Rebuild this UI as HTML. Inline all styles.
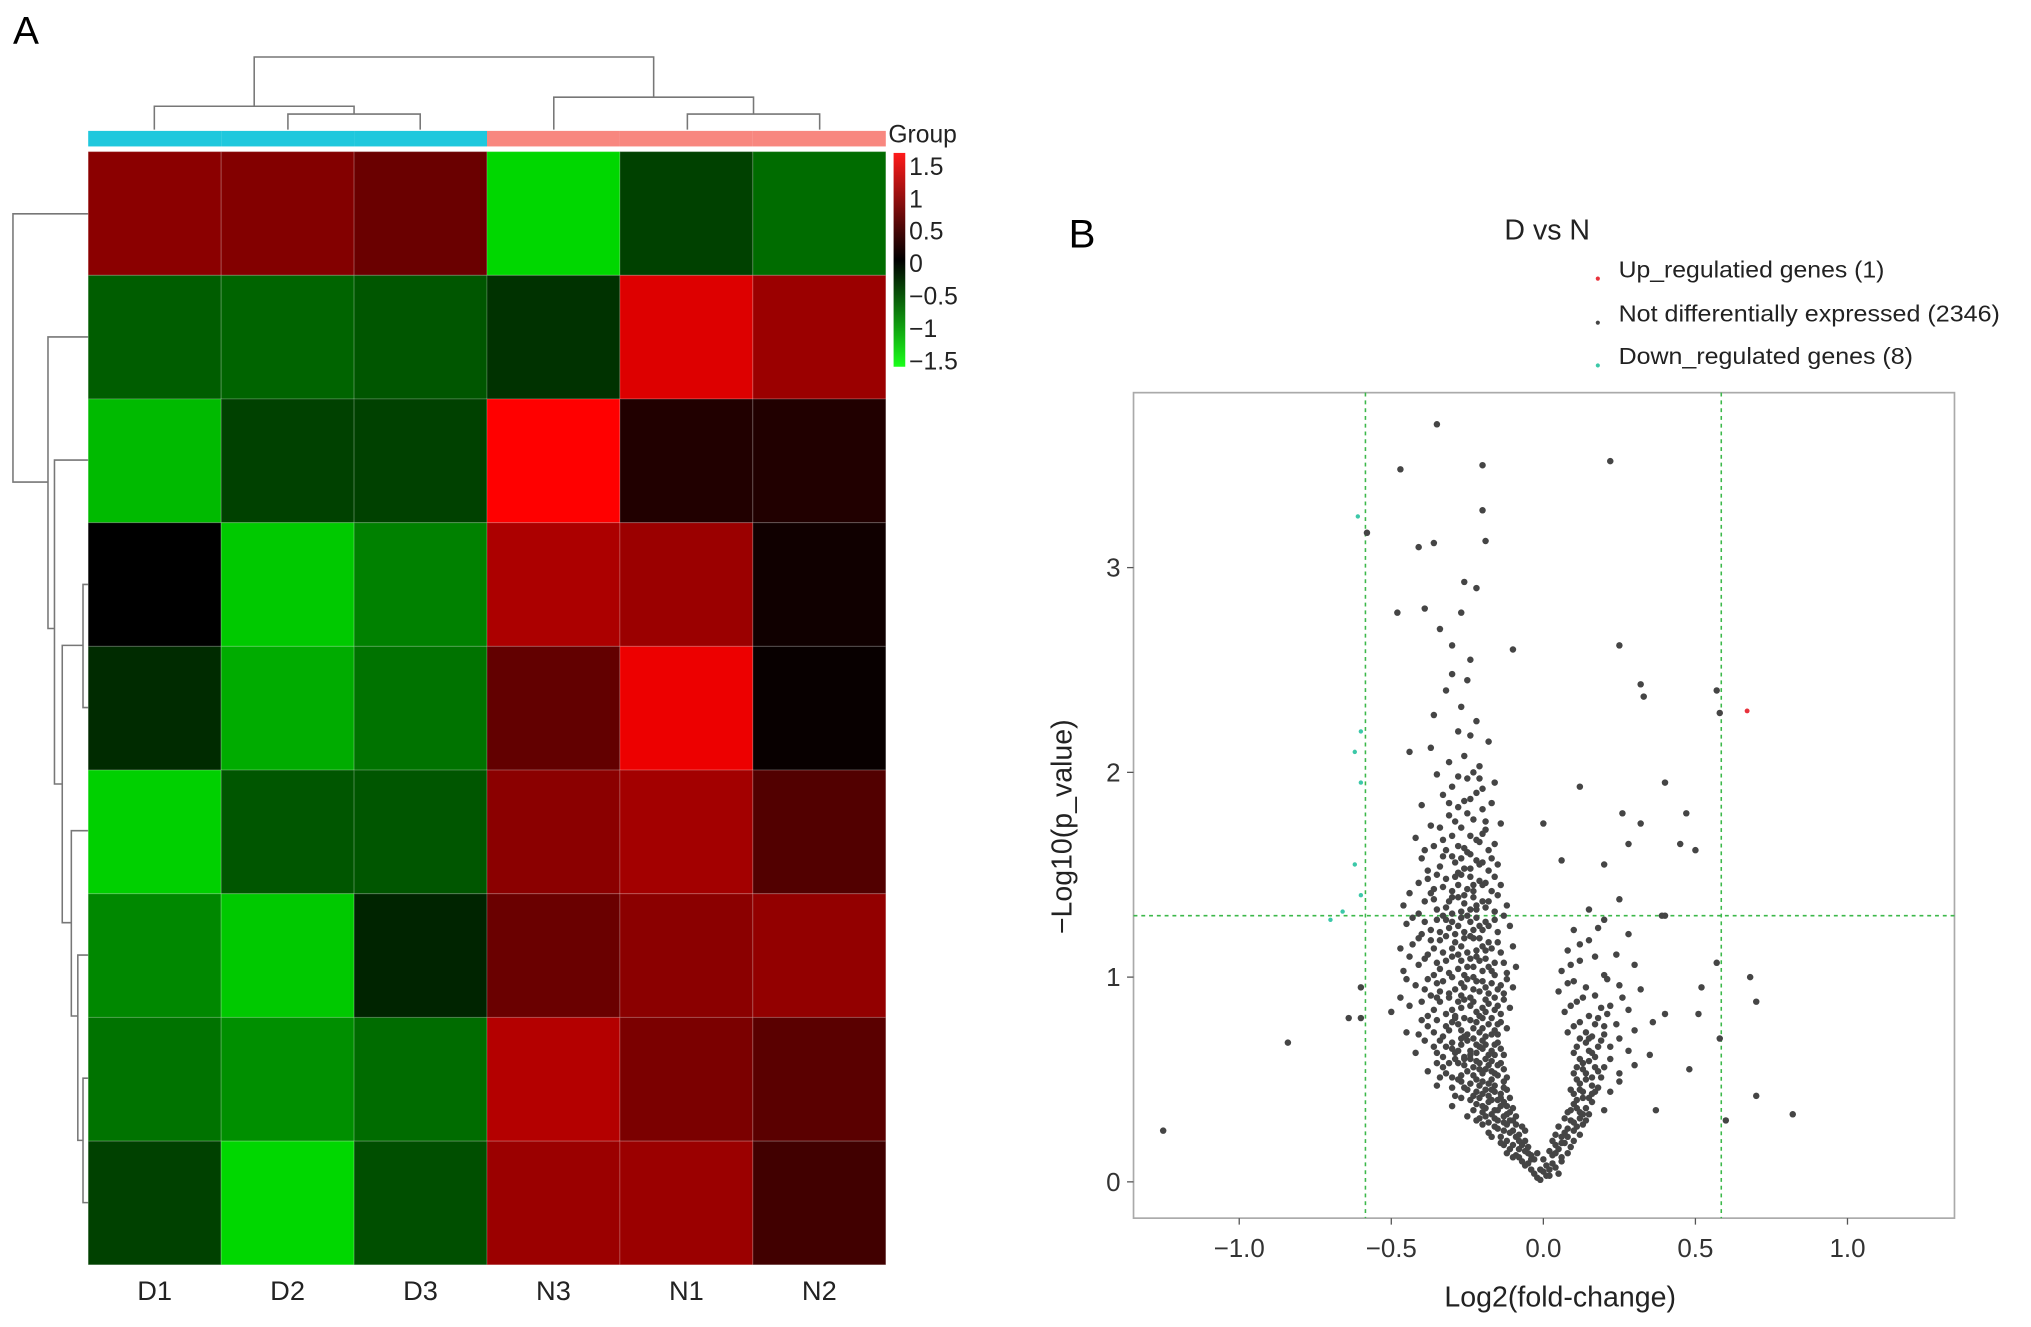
<!DOCTYPE html>
<html><head><meta charset="utf-8"><style>
html,body{margin:0;padding:0;background:#fff;}
svg{display:block;font-family:"Liberation Sans",sans-serif;}
</style></head><body>
<svg id="fig" width="2031" height="1327" viewBox="0 0 1566 1024" preserveAspectRatio="none" xmlns="http://www.w3.org/2000/svg">
<text x="10" y="34" font-size="30">A</text>
<text x="824" y="191" font-size="31">B</text>
<g id="dendro" fill="none" stroke="#777" stroke-width="1.2">
<path d="M222,100V88H324V100 M119,100V82H273V88 M530,100V88H632V100 M581,88V82 M427,100V75H581V82 M196,82V44H504V75"/>
<path d="M68,165H10V372H37 M68,260H37V485H42 M68,355H42V605H48 M68,451H64V546H68 M64,498H48V712H55 M68,641H55V784H60 M68,737H60V880H64 M68,832H64V928H68"/>
</g>
<g id="heat"></g>
<g id="vol"></g>
</svg>
<script>
const NS="http://www.w3.org/2000/svg";
const sampleNames=["D1","D2","D3","N3","N1","N2"];
const sampleGroups=["D","D","D","N","N","N"];
const heatValues=[
[0.85,0.8,0.65,-1.5,-0.45,-0.75],
[-0.65,-0.7,-0.6,-0.35,1.35,0.95],
[-1.3,-0.45,-0.45,1.6,0.2,0.2],
[0.0,-1.4,-0.9,1.05,0.95,0.1],
[-0.3,-1.2,-0.8,0.6,1.45,0.05],
[-1.45,-0.6,-0.6,0.85,1.0,0.5],
[-0.95,-1.4,-0.25,0.65,0.85,0.9],
[-0.8,-1.0,-0.75,1.1,0.75,0.55],
[-0.45,-1.5,-0.55,0.95,0.95,0.4]];
const legendTicks=[1.5,1,0.5,0,-0.5,-1,-1.5];
const legendTickLabels=["1.5","1","0.5","0","\u22120.5","\u22121","\u22121.5"];

const xTicks=[-1.0,-0.5,0.0,0.5,1.0];
const xTickLabels=["\u22121.0","\u22120.5","0.0","0.5","1.0"];
const yTicks=[0,1,2,3];
const yTickLabels=["0","1","2","3"];
const fcCut=[-0.585,0.585];
const pCut=1.3;
const upGenes=[[0.67,2.3]];
const downGenes=[[-0.61,3.25],[-0.6,2.2],[-0.62,2.1],[-0.6,1.95],[-0.62,1.55],[-0.6,1.4],[-0.66,1.32],[-0.7,1.28]];
const otherGenes=[
[-1.25,0.25],[-0.84,0.68],[-0.58,3.17],[-0.35,3.7],[-0.47,3.48],[-0.2,3.5],[-0.2,3.28],[-0.19,3.13],[-0.36,3.12],[-0.41,3.1],[0.22,3.52],[0.25,2.62],[0.32,2.43],[0.33,2.37],[0.57,2.4],[0.58,2.29],[0.12,1.93],[0.4,1.95],[0.47,1.8],[0.5,1.62],[0.45,1.65],[0.26,1.8],[0.28,1.65],[0.32,1.75],[0.06,1.57],[0.0,1.75],[-0.1,2.6],[-0.6,0.95],[-0.64,0.8],[-0.6,0.8],[0.52,0.95],[0.51,0.82],[0.58,0.7],[0.7,0.88],[0.7,0.42],[0.6,0.3],[0.82,0.33],[0.48,0.55],[0.4,1.3],[0.39,1.3],[0.57,1.07],[0.68,1.0],[0.37,0.35],
[-0.02,0.02],[0,0.05],[0.01,0.08],[0.02,0.03],[-0.04,0.06],[0.03,0.09],[-0.01,0.01],[0.04,0.07],[-0.05,0.09],[0.05,0.04],[-0.03,0.04],[0.02,0.06],[-0.06,0.08],[0.06,0.1],[-0.01,0.06],[0.01,0.03],
[-0.08,0.12],[-0.06,0.15],[-0.04,0.11],[-0.1,0.18],[-0.12,0.2],[0.03,0.13],[0.05,0.16],[0.07,0.19],[0.08,0.14],[0.1,0.2],[-0.07,0.18],[-0.09,0.13],[0.06,0.12],[-0.11,0.16],[0.04,0.18],[-0.05,0.14],[-0.08,0.2],[0.02,0.15],
[-0.14,0.22],[-0.1,0.25],[-0.12,0.28],[-0.08,0.23],[-0.16,0.27],[-0.18,0.24],[-0.11,0.3],[0.06,0.22],[0.08,0.26],[0.1,0.29],[0.12,0.23],[0.09,0.3],[-0.13,0.25],[-0.15,0.3],[-0.2,0.28],[0.11,0.27],[0.07,0.24],[-0.09,0.28],[-0.17,0.22],
[-0.12,0.33],[-0.14,0.37],[-0.16,0.31],[-0.18,0.39],[-0.2,0.34],[-0.1,0.36],[-0.22,0.38],[-0.25,0.32],[0.08,0.34],[0.1,0.38],[0.12,0.31],[0.14,0.36],[0.16,0.39],[-0.15,0.35],[-0.17,0.4],[0.2,0.35],[-0.3,0.37],[0.13,0.33],[-0.13,0.39],[-0.19,0.32],
[-0.14,0.43],[-0.16,0.47],[-0.18,0.42],[-0.2,0.49],[-0.22,0.44],[-0.24,0.48],[-0.12,0.45],[-0.27,0.41],[-0.3,0.46],[0.1,0.43],[0.12,0.48],[0.15,0.41],[0.18,0.46],[0.22,0.44],[-0.19,0.45],[-0.21,0.41],[0.14,0.5],[-0.35,0.47],[0.25,0.49],[-0.17,0.5],
[-0.15,0.52],[-0.18,0.57],[-0.2,0.53],[-0.22,0.59],[-0.25,0.54],[-0.28,0.58],[-0.13,0.55],[-0.3,0.51],[-0.33,0.56],[0.1,0.53],[0.13,0.58],[0.16,0.51],[0.2,0.56],[0.25,0.53],[-0.21,0.55],[-0.24,0.6],[0.12,0.6],[-0.38,0.54],[0.3,0.57],[-0.17,0.59],
[-0.16,0.62],[-0.19,0.67],[-0.22,0.63],[-0.25,0.69],[-0.28,0.64],[-0.3,0.68],[-0.14,0.65],[-0.33,0.61],[-0.36,0.66],[-0.42,0.63],[0.1,0.63],[0.14,0.68],[0.17,0.61],[0.22,0.66],[0.28,0.64],[-0.2,0.65],[-0.23,0.7],[0.35,0.62],[-0.26,0.61],[0.12,0.7],
[-0.15,0.72],[-0.18,0.77],[-0.21,0.73],[-0.24,0.79],[-0.27,0.74],[-0.3,0.78],[-0.33,0.71],[-0.12,0.75],[-0.38,0.76],[-0.45,0.73],[0.08,0.73],[0.12,0.78],[0.16,0.71],[0.2,0.76],[0.3,0.74],[-0.2,0.75],[-0.26,0.8],[0.36,0.78],[-0.4,0.79],[-0.17,0.8],
[-0.14,0.82],[-0.18,0.87],[-0.22,0.83],[-0.26,0.89],[-0.3,0.84],[-0.34,0.88],[-0.11,0.85],[-0.38,0.81],[-0.44,0.86],[-0.5,0.83],[0.07,0.83],[0.11,0.88],[0.15,0.81],[0.22,0.86],[0.28,0.84],[-0.2,0.85],[-0.24,0.9],[0.4,0.82],[-0.29,0.81],[-0.16,0.9],
[-0.13,0.92],[-0.17,0.97],[-0.21,0.93],[-0.25,0.99],[-0.29,0.94],[-0.33,0.98],[-0.37,0.91],[-0.1,0.95],[-0.42,0.96],[0.05,0.93],[0.1,0.98],[0.17,0.91],[0.25,0.96],[-0.19,0.95],[-0.23,1.0],[-0.27,0.91],[0.32,0.94],
[-0.12,1.02],[-0.16,1.07],[-0.2,1.03],[-0.24,1.09],[-0.28,1.04],[-0.32,1.08],[-0.36,1.01],[-0.09,1.05],[-0.41,1.06],[-0.46,1.03],[0.06,1.03],[0.12,1.08],[0.2,1.01],[0.3,1.06],[-0.18,1.05],[-0.22,1.1],[-0.26,1.01],
[-0.14,1.12],[-0.18,1.17],[-0.22,1.13],[-0.26,1.19],[-0.3,1.14],[-0.34,1.18],[-0.38,1.11],[-0.1,1.15],[-0.43,1.16],[0.08,1.13],[0.15,1.18],[0.24,1.11],[-0.2,1.15],[-0.24,1.2],[-0.28,1.11],
[-0.15,1.22],[-0.19,1.27],[-0.23,1.23],[-0.27,1.29],[-0.31,1.24],[-0.35,1.28],[-0.4,1.21],[-0.11,1.25],[-0.45,1.26],[0.1,1.23],[0.2,1.28],[0.28,1.21],[-0.21,1.25],[-0.25,1.3],[-0.29,1.21],[-0.33,1.3],
[-0.16,1.32],[-0.2,1.37],[-0.24,1.33],[-0.28,1.39],[-0.32,1.34],[-0.36,1.38],[-0.41,1.31],[-0.12,1.35],[0.15,1.33],[0.25,1.38],[-0.22,1.35],[-0.26,1.4],[-0.3,1.31],
[-0.17,1.42],[-0.21,1.47],[-0.25,1.43],[-0.29,1.49],[-0.33,1.44],[-0.38,1.48],[-0.14,1.45],[-0.44,1.41],[-0.23,1.45],[-0.27,1.5],
[-0.18,1.52],[-0.22,1.57],[-0.26,1.53],[-0.3,1.59],[-0.34,1.54],[-0.4,1.58],[-0.15,1.55],[-0.24,1.6],[-0.28,1.51],[0.2,1.55],
[-0.18,1.62],[-0.22,1.67],[-0.26,1.63],[-0.3,1.69],[-0.36,1.64],[-0.42,1.68],[-0.16,1.65],[-0.2,1.7],[-0.25,1.61],
[-0.19,1.72],[-0.23,1.77],[-0.27,1.73],[-0.31,1.79],[-0.37,1.74],[-0.14,1.75],[-0.25,1.8],
[-0.2,1.82],[-0.24,1.87],[-0.28,1.83],[-0.33,1.89],[-0.4,1.84],[-0.17,1.85],[-0.22,1.9],
[-0.2,1.92],[-0.25,1.97],[-0.3,1.93],[-0.35,1.99],[-0.16,1.95],[-0.23,2.0],
[-0.21,2.03],[-0.26,2.08],[-0.31,2.05],[-0.37,2.12],[-0.18,2.15],[-0.24,2.18],[-0.28,2.2],[-0.44,2.1],
[-0.22,2.25],[-0.27,2.32],[-0.32,2.4],[-0.36,2.28],[-0.25,2.45],[-0.3,2.48],
[-0.24,2.55],[-0.3,2.62],[-0.34,2.7],[-0.27,2.78],[-0.22,2.9],[-0.39,2.8],[-0.26,2.93],[-0.48,2.78]];
const coreGenes=[
[-0.03,0.11],[-0.05,0.17],[-0.07,0.1],[-0.09,0.22],[-0.11,0.24],[-0.13,0.18],[-0.06,0.25],[-0.12,0.14],[0.03,0.2],[0.05,0.27],[0.04,0.23],[0.09,0.17],[0.0,0.11],[-0.02,0.14],
[-0.11,0.34],[-0.13,0.29],[-0.15,0.26],[-0.17,0.33],[-0.19,0.36],[-0.21,0.31],[-0.23,0.35],[-0.09,0.32],[0.07,0.31],[0.09,0.35],[0.11,0.4],[0.13,0.28],[0.15,0.33],[0.17,0.44],
[-0.13,0.46],[-0.15,0.4],[-0.17,0.45],[-0.21,0.47],[-0.23,0.42],[-0.25,0.45],[-0.27,0.49],[-0.29,0.42],[-0.11,0.41],[0.09,0.45],[0.11,0.5],[0.16,0.47],[0.19,0.51],[0.13,0.44],
[-0.14,0.58],[-0.16,0.53],[-0.19,0.55],[-0.23,0.56],[-0.26,0.57],[-0.27,0.52],[-0.29,0.6],[-0.32,0.53],[-0.35,0.58],[-0.12,0.51],[0.11,0.56],[0.15,0.59],[0.18,0.54],[0.22,0.6],
[-0.15,0.68],[-0.17,0.64],[-0.21,0.66],[-0.24,0.62],[-0.27,0.67],[-0.29,0.63],[-0.32,0.66],[-0.35,0.63],[-0.39,0.69],[-0.13,0.62],[0.11,0.66],[0.15,0.64],[0.19,0.69],[0.25,0.7],
[-0.16,0.74],[-0.19,0.71],[-0.22,0.78],[-0.25,0.72],[-0.28,0.77],[-0.31,0.74],[-0.35,0.79],[-0.41,0.72],[-0.14,0.78],[0.1,0.76],[0.14,0.73],[0.18,0.8],[0.24,0.77],
[-0.15,0.86],[-0.19,0.83],[-0.23,0.88],[-0.27,0.85],[-0.31,0.9],[-0.36,0.84],[-0.4,0.88],[-0.47,0.9],[-0.13,0.89],[0.09,0.86],[0.13,0.9],[0.19,0.85],[0.26,0.9],
[-0.14,0.96],[-0.18,0.92],[-0.22,0.98],[-0.26,0.95],[-0.31,0.92],[-0.35,0.97],[-0.39,0.94],[-0.45,0.99],[-0.12,0.99],[0.08,0.97],[0.14,0.95],[0.21,0.99],
[-0.13,1.07],[-0.17,1.03],[-0.21,1.08],[-0.25,1.05],[-0.3,1.1],[-0.34,1.04],[-0.39,1.09],[-0.44,1.1],[0.09,1.06],[0.17,1.1],
[-0.15,1.17],[-0.19,1.13],[-0.23,1.19],[-0.27,1.15],[-0.32,1.2],[-0.36,1.14],[-0.41,1.19],[-0.47,1.14],[0.12,1.16],
[-0.16,1.28],[-0.2,1.23],[-0.24,1.27],[-0.28,1.25],[-0.32,1.28],[-0.37,1.23],[-0.43,1.29],[-0.13,1.3],[0.18,1.24],
[-0.18,1.37],[-0.22,1.33],[-0.26,1.36],[-0.3,1.39],[-0.35,1.33],[-0.39,1.37],[-0.46,1.35],[-0.15,1.4],
[-0.19,1.46],[-0.23,1.42],[-0.28,1.45],[-0.32,1.48],[-0.36,1.43],[-0.41,1.46],[-0.16,1.49],
[-0.2,1.56],[-0.24,1.53],[-0.29,1.56],[-0.33,1.59],[-0.38,1.52],[-0.17,1.58],
[-0.21,1.66],[-0.24,1.69],[-0.28,1.64],[-0.33,1.67],[-0.39,1.62],[-0.19,1.76],[-0.29,1.76],[-0.34,1.73],[-0.26,1.86],[-0.31,1.85],[-0.21,1.97],[-0.28,1.98]];
const denseGenes=[
[-0.04,0.13],[-0.06,0.2],[-0.08,0.16],[-0.1,0.12],[-0.14,0.19],[-0.07,0.27],[-0.13,0.32],[-0.16,0.35],[-0.18,0.29],[-0.2,0.37],[-0.22,0.3],[-0.12,0.37],[-0.1,0.3],
[-0.14,0.41],[-0.16,0.44],[-0.18,0.48],[-0.2,0.43],[-0.22,0.5],[-0.24,0.4],[-0.26,0.46],[-0.28,0.5],[-0.13,0.49],[-0.15,0.57],[-0.17,0.54],[-0.19,0.6],
[-0.21,0.58],[-0.23,0.52],[-0.26,0.6],[-0.31,0.58],[-0.34,0.51],[-0.16,0.67],[-0.18,0.62],[-0.2,0.69],[-0.22,0.67],[-0.24,0.64],[-0.27,0.7],[-0.3,0.65],[-0.34,0.69],
[-0.15,0.77],[-0.17,0.72],[-0.2,0.8],[-0.23,0.75],[-0.26,0.71],[-0.29,0.8],[-0.32,0.76],[-0.36,0.73],[-0.16,0.84],[-0.19,0.89],[-0.21,0.81],[-0.24,0.86],[-0.28,0.88],[-0.32,0.82],[-0.35,0.9],
[-0.15,0.94],[-0.2,0.98],[-0.23,0.94],[-0.27,0.97],[-0.3,1.0],[-0.34,0.93],[-0.38,0.99],[-0.16,1.01],[-0.19,1.09],[-0.23,1.05],[-0.27,1.08],[-0.31,1.02],[-0.35,1.07],
[-0.17,1.14],[-0.21,1.19],[-0.25,1.12],[-0.29,1.17],[-0.33,1.12],[-0.37,1.18],[-0.18,1.25],[-0.22,1.29],[-0.26,1.22],[-0.3,1.27],[-0.34,1.22],[-0.39,1.27],
[-0.19,1.34],[-0.23,1.39],[-0.27,1.32],[-0.31,1.37],[-0.37,1.41],[-0.2,1.45],[-0.24,1.49],[-0.3,1.42],[-0.35,1.5],[-0.21,1.55],[-0.27,1.58],[-0.32,1.62],
[0.04,0.14],[0.06,0.19],[0.08,0.22],[0.1,0.25],[0.12,0.34],[0.14,0.3],[0.11,0.36],[0.13,0.41],[0.16,0.43],[0.12,0.45],[0.14,0.53],[0.17,0.56],[0.13,0.55],[0.16,0.63],[0.18,0.66],[0.15,0.7],[0.2,0.72],[0.17,0.77],[0.21,0.82]];

function mk(tag,attrs,parent){const e=document.createElementNS(NS,tag);for(const k in attrs)e.setAttribute(k,attrs[k]);parent.appendChild(e);return e;}

/* ---------- heatmap ---------- */
const heat=document.getElementById('heat');
const hx0=68,hx1=683,hy0=117,hy1=976;
const cw=(hx1-hx0)/sampleNames.length, ch=(hy1-hy0)/heatValues.length;
function colorOf(v){
  if(v>=0){const r=Math.min(255,Math.round(v/1.5*245));return `rgb(${r},0,0)`;}
  const g=Math.min(225,Math.round(-v/1.5*215));return `rgb(0,${g},0)`;
}
sampleGroups.forEach((g,i)=>{
  const r=mk('rect',{x:hx0+i*cw,y:101,width:cw,height:12,fill:g==="D"?"#1fc8dd":"#f8877f"},heat);
  
  
});
heatValues.forEach((row,ri)=>row.forEach((v,ci)=>{
  const r=mk('rect',{x:hx0+ci*cw,y:hy0+ri*ch,width:cw,height:ch,fill:colorOf(v),stroke:"rgba(255,255,255,0.18)","stroke-width":0.8},heat);
  
  
}));
sampleNames.forEach((n,i)=>{
  const t=mk('text',{x:hx0+(i+0.5)*cw,y:1003,"font-size":21,"text-anchor":"middle",fill:"#222"},heat);
  t.textContent=n;
  
  
});
const gt=mk('text',{x:685,y:110,"font-size":19,fill:"#222"},heat);gt.textContent="Group";


const defs=mk('defs',{},heat);
const lg=mk('linearGradient',{id:"cb",x1:0,y1:0,x2:0,y2:1},defs);
mk('stop',{offset:"0",'stop-color':"#ff1a1a"},lg);
mk('stop',{offset:"0.5",'stop-color':"#000"},lg);
mk('stop',{offset:"1",'stop-color':"#1aff1a"},lg);
const cbY=v=>203-50*v;
const cb=mk('rect',{x:689,y:cbY(1.7),width:9,height:cbY(-1.6)-cbY(1.7),fill:"url(#cb)"},heat);


legendTicks.forEach((v,i)=>{
  const t=mk('text',{x:701,y:cbY(v)+7,"font-size":19,fill:"#222"},heat);
  t.textContent=legendTickLabels[i];
  
  
});

/* ---------- volcano ---------- */
const vol=document.getElementById('vol');
const px0=874,px1=1507,py0=303,py1=940;
const X=v=>1190+234.5*v, Y=v=>912-158*v;
const box=mk('rect',{x:px0,y:py0,width:px1-px0,height:py1-py0,fill:"none",stroke:"#aaa","stroke-width":1.3},vol);


fcCut.forEach(c=>{
  const l=mk('line',{x1:X(c),x2:X(c),y1:py0,y2:py1,stroke:"#3cb84a","stroke-width":1.2,"stroke-dasharray":"3,3"},vol);
  
  
});
const hl=mk('line',{x1:px0,x2:px1,y1:Y(pCut),y2:Y(pCut),stroke:"#3cb84a","stroke-width":1.2,"stroke-dasharray":"3,3"},vol);


otherGenes.concat(coreGenes,denseGenes).forEach(p=>{
  const c=mk('circle',{cx:X(p[0]),cy:Y(p[1]),r:2.5,fill:"#454545"},vol);
  
  
});
downGenes.forEach(p=>{
  const c=mk('circle',{cx:X(p[0]),cy:Y(p[1]),r:1.7,fill:"#3cc8a8"},vol);
  
  
});
upGenes.forEach(p=>{
  const c=mk('circle',{cx:X(p[0]),cy:Y(p[1]),r:1.9,fill:"#e8323c"},vol);
  
  
});
xTicks.forEach((v,i)=>{
  mk('line',{x1:X(v),x2:X(v),y1:py1,y2:py1+5,stroke:"#555"},vol);
  const t=mk('text',{x:X(v),y:py1+30,"font-size":20,"text-anchor":"middle",fill:"#333"},vol);
  t.textContent=xTickLabels[i];
  
  
});
yTicks.forEach((v,i)=>{
  mk('line',{x1:px0-5,x2:px0,y1:Y(v),y2:Y(v),stroke:"#555"},vol);
  const t=mk('text',{x:px0-10,y:Y(v)+7,"font-size":20,"text-anchor":"end",fill:"#333"},vol);
  t.textContent=yTickLabels[i];
  
  
});
const xt=mk('text',{x:1203,y:1008,"font-size":22,"text-anchor":"middle",fill:"#222"},vol);
xt.textContent="Log2(fold-change)";


const yt=mk('text',{x:0,y:0,"font-size":22,"text-anchor":"middle",fill:"#222",transform:"translate(826,638) rotate(-90)"},vol);
yt.textContent="\u2212Log10(p_value)";


const tt=mk('text',{x:1160,y:185,"font-size":22,fill:"#222"},vol);
tt.textContent="D vs N";


const legItems=[["#e8323c","Up_regulatied genes (1)",207,205],["#444","Not differentially expressed (2346)",241,294],["#3cc8a8","Down_regulated genes (8)",274,227]];
legItems.forEach(it=>{
  const c=mk('circle',{cx:1232,cy:it[2]+8,r:1.6,fill:it[0]},vol);
  
  
  const t=mk('text',{x:1248,y:it[2]+7,"font-size":18,fill:"#222",textLength:it[3],lengthAdjust:"spacingAndGlyphs"},vol);
  t.textContent=it[1];
  
  
});
</script>
</body></html>
